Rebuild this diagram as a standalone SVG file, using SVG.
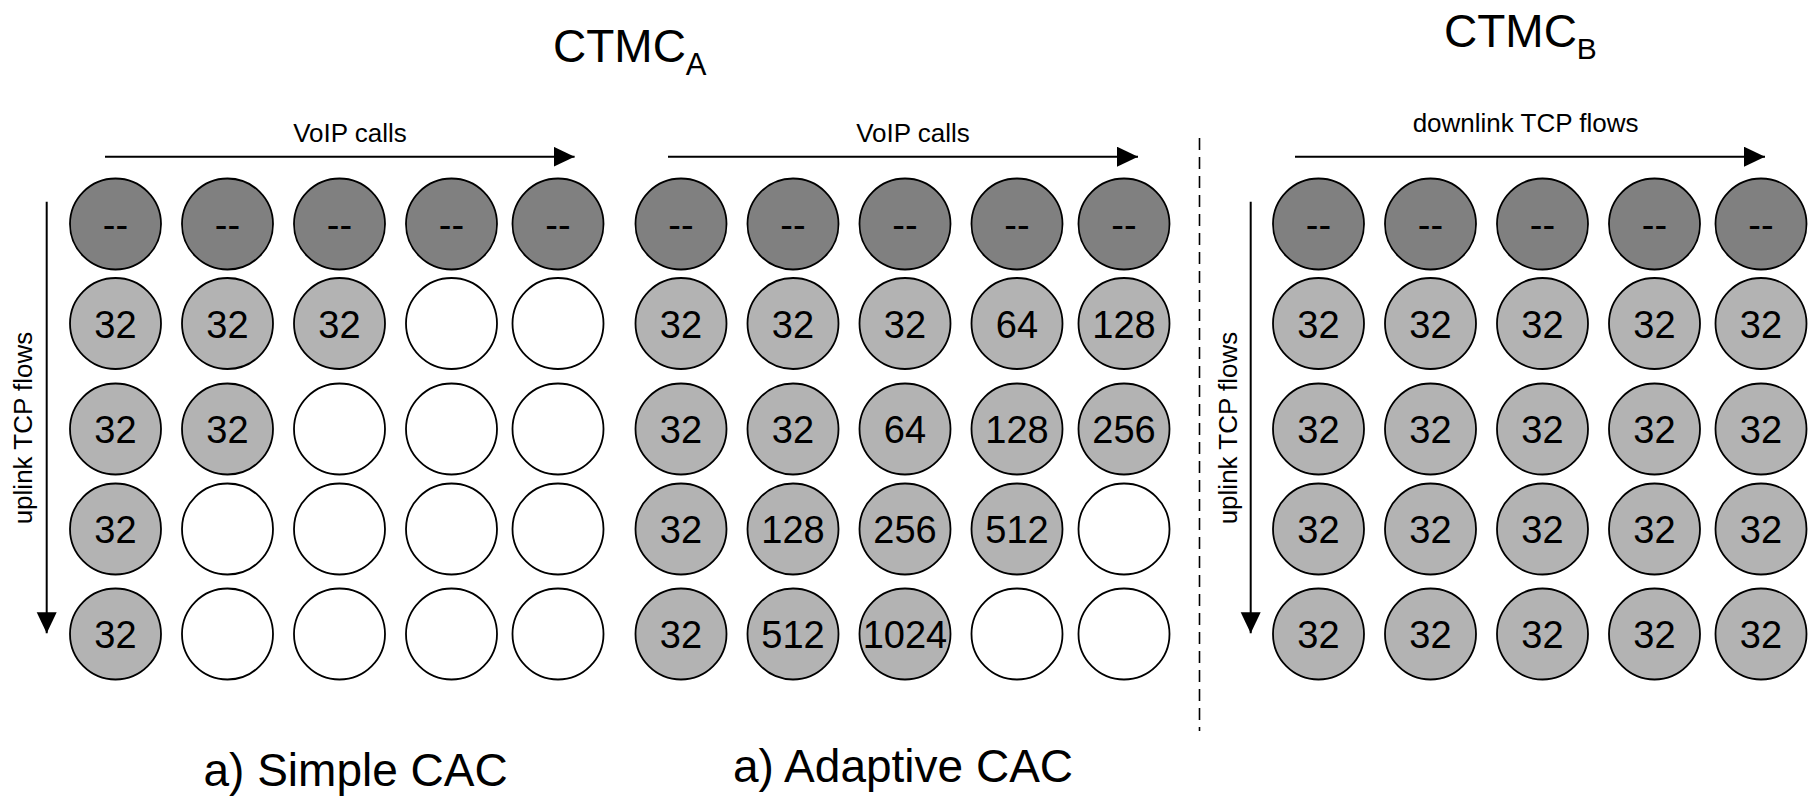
<svg xmlns="http://www.w3.org/2000/svg" width="1808" height="796" viewBox="0 0 1808 796">
<style>
text{font-family:"Liberation Sans",Arial,sans-serif;fill:#000}
.dk{fill:#808080;stroke:#000;stroke-width:1.8}
.lt{fill:#b3b3b3;stroke:#000;stroke-width:1.8}
.em{fill:#fff;stroke:#000;stroke-width:1.8}
.n{font-size:38px;text-anchor:middle}
.lbl{font-size:26px;text-anchor:middle}
.big{font-size:46px}
.ax{stroke:#000;stroke-width:2;fill:none}
</style>
<defs>
<marker id="ah" markerUnits="userSpaceOnUse" markerWidth="22" markerHeight="22" refX="21" refY="10" orient="auto">
<path d="M0,0 L21,10 L0,20 z" fill="#000"/>
</marker>
</defs>
<rect width="1808" height="796" fill="#fff"/>

<g id="titles">
<text class="big" x="553" y="62">CTMC<tspan font-size="31" dy="13">A</tspan></text>
<text class="big" x="1444" y="47">CTMC<tspan font-size="30" dy="12">B</tspan></text>
<text class="big" x="355.6" y="786" text-anchor="middle">a) Simple CAC</text>
<text class="big" x="903" y="782" text-anchor="middle">a) Adaptive CAC</text>
</g>

<g id="connectors">
<line class="ax" x1="105" y1="156.7" x2="574.6" y2="156.7" marker-end="url(#ah)"/>
<line class="ax" x1="668" y1="156.7" x2="1138" y2="156.7" marker-end="url(#ah)"/>
<line class="ax" x1="1295" y1="156.7" x2="1765" y2="156.7" marker-end="url(#ah)"/>
<line class="ax" x1="46.7" y1="201.7" x2="46.7" y2="633.3" marker-end="url(#ah)"/>
<line class="ax" x1="1250.7" y1="201.7" x2="1250.7" y2="633.3" marker-end="url(#ah)"/>
<line x1="1199.5" y1="138" x2="1199.5" y2="731" stroke="#000" stroke-width="1.6" stroke-dasharray="12 7"/>
</g>

<g id="axis-labels">
<text class="lbl" x="350" y="141.7">VoIP calls</text>
<text class="lbl" x="913" y="141.7">VoIP calls</text>
<text class="lbl" x="1525.6" y="131.7">downlink TCP flows</text>
<text class="lbl" transform="translate(32,428) rotate(-90)">uplink TCP flows</text>
<text class="lbl" transform="translate(1237,428) rotate(-90)">uplink TCP flows</text>
</g>

<!-- Panel A: Simple CAC -->
<g id="simpleA">
<g id="a-1-1"><circle class="dk" cx="115.5" cy="224" r="45.5"/><text class="n" x="115.5" y="238">--</text></g>
<g id="a-1-2"><circle class="dk" cx="227.5" cy="224" r="45.5"/><text class="n" x="227.5" y="238">--</text></g>
<g id="a-1-3"><circle class="dk" cx="339.5" cy="224" r="45.5"/><text class="n" x="339.5" y="238">--</text></g>
<g id="a-1-4"><circle class="dk" cx="451.5" cy="224" r="45.5"/><text class="n" x="451.5" y="238">--</text></g>
<g id="a-1-5"><circle class="dk" cx="558" cy="224" r="45.5"/><text class="n" x="558" y="238">--</text></g>

<g id="a-2-1"><circle class="lt" cx="115.5" cy="323.5" r="45.5"/><text class="n" x="115.5" y="338">32</text></g>
<g id="a-2-2"><circle class="lt" cx="227.5" cy="323.5" r="45.5"/><text class="n" x="227.5" y="338">32</text></g>
<g id="a-2-3"><circle class="lt" cx="339.5" cy="323.5" r="45.5"/><text class="n" x="339.5" y="338">32</text></g>
<g id="a-2-4"><circle class="em" cx="451.5" cy="323.5" r="45.5"/></g>
<g id="a-2-5"><circle class="em" cx="558" cy="323.5" r="45.5"/></g>

<g id="a-3-1"><circle class="lt" cx="115.5" cy="429" r="45.5"/><text class="n" x="115.5" y="443">32</text></g>
<g id="a-3-2"><circle class="lt" cx="227.5" cy="429" r="45.5"/><text class="n" x="227.5" y="443">32</text></g>
<g id="a-3-3"><circle class="em" cx="339.5" cy="429" r="45.5"/></g>
<g id="a-3-4"><circle class="em" cx="451.5" cy="429" r="45.5"/></g>
<g id="a-3-5"><circle class="em" cx="558" cy="429" r="45.5"/></g>

<g id="a-4-1"><circle class="lt" cx="115.5" cy="529" r="45.5"/><text class="n" x="115.5" y="543">32</text></g>
<g id="a-4-2"><circle class="em" cx="227.5" cy="529" r="45.5"/></g>
<g id="a-4-3"><circle class="em" cx="339.5" cy="529" r="45.5"/></g>
<g id="a-4-4"><circle class="em" cx="451.5" cy="529" r="45.5"/></g>
<g id="a-4-5"><circle class="em" cx="558" cy="529" r="45.5"/></g>

<g id="a-5-1"><circle class="lt" cx="115.5" cy="634" r="45.5"/><text class="n" x="115.5" y="648">32</text></g>
<g id="a-5-2"><circle class="em" cx="227.5" cy="634" r="45.5"/></g>
<g id="a-5-3"><circle class="em" cx="339.5" cy="634" r="45.5"/></g>
<g id="a-5-4"><circle class="em" cx="451.5" cy="634" r="45.5"/></g>
<g id="a-5-5"><circle class="em" cx="558" cy="634" r="45.5"/></g>
</g>

<!-- Panel B: Adaptive CAC -->
<g id="adaptiveA">
<g id="b-1-1"><circle class="dk" cx="681" cy="224" r="45.5"/><text class="n" x="681" y="238">--</text></g>
<g id="b-1-2"><circle class="dk" cx="793" cy="224" r="45.5"/><text class="n" x="793" y="238">--</text></g>
<g id="b-1-3"><circle class="dk" cx="905" cy="224" r="45.5"/><text class="n" x="905" y="238">--</text></g>
<g id="b-1-4"><circle class="dk" cx="1017" cy="224" r="45.5"/><text class="n" x="1017" y="238">--</text></g>
<g id="b-1-5"><circle class="dk" cx="1124" cy="224" r="45.5"/><text class="n" x="1124" y="238">--</text></g>

<g id="b-2-1"><circle class="lt" cx="681" cy="323.5" r="45.5"/><text class="n" x="681" y="338">32</text></g>
<g id="b-2-2"><circle class="lt" cx="793" cy="323.5" r="45.5"/><text class="n" x="793" y="338">32</text></g>
<g id="b-2-3"><circle class="lt" cx="905" cy="323.5" r="45.5"/><text class="n" x="905" y="338">32</text></g>
<g id="b-2-4"><circle class="lt" cx="1017" cy="323.5" r="45.5"/><text class="n" x="1017" y="338">64</text></g>
<g id="b-2-5"><circle class="lt" cx="1124" cy="323.5" r="45.5"/><text class="n" x="1124" y="338">128</text></g>

<g id="b-3-1"><circle class="lt" cx="681" cy="429" r="45.5"/><text class="n" x="681" y="443">32</text></g>
<g id="b-3-2"><circle class="lt" cx="793" cy="429" r="45.5"/><text class="n" x="793" y="443">32</text></g>
<g id="b-3-3"><circle class="lt" cx="905" cy="429" r="45.5"/><text class="n" x="905" y="443">64</text></g>
<g id="b-3-4"><circle class="lt" cx="1017" cy="429" r="45.5"/><text class="n" x="1017" y="443">128</text></g>
<g id="b-3-5"><circle class="lt" cx="1124" cy="429" r="45.5"/><text class="n" x="1124" y="443">256</text></g>

<g id="b-4-1"><circle class="lt" cx="681" cy="529" r="45.5"/><text class="n" x="681" y="543">32</text></g>
<g id="b-4-2"><circle class="lt" cx="793" cy="529" r="45.5"/><text class="n" x="793" y="543">128</text></g>
<g id="b-4-3"><circle class="lt" cx="905" cy="529" r="45.5"/><text class="n" x="905" y="543">256</text></g>
<g id="b-4-4"><circle class="lt" cx="1017" cy="529" r="45.5"/><text class="n" x="1017" y="543">512</text></g>
<g id="b-4-5"><circle class="em" cx="1124" cy="529" r="45.5"/></g>

<g id="b-5-1"><circle class="lt" cx="681" cy="634" r="45.5"/><text class="n" x="681" y="648">32</text></g>
<g id="b-5-2"><circle class="lt" cx="793" cy="634" r="45.5"/><text class="n" x="793" y="648">512</text></g>
<g id="b-5-3"><circle class="lt" cx="905" cy="634" r="45.5"/><text class="n" x="905" y="648">1024</text></g>
<g id="b-5-4"><circle class="em" cx="1017" cy="634" r="45.5"/></g>
<g id="b-5-5"><circle class="em" cx="1124" cy="634" r="45.5"/></g>
</g>

<!-- Panel C: CTMC_B -->
<g id="ctmcB">
<g id="c-1-1"><circle class="dk" cx="1318.5" cy="224" r="45.5"/><text class="n" x="1318.5" y="238">--</text></g>
<g id="c-1-2"><circle class="dk" cx="1430.5" cy="224" r="45.5"/><text class="n" x="1430.5" y="238">--</text></g>
<g id="c-1-3"><circle class="dk" cx="1542.5" cy="224" r="45.5"/><text class="n" x="1542.5" y="238">--</text></g>
<g id="c-1-4"><circle class="dk" cx="1654.5" cy="224" r="45.5"/><text class="n" x="1654.5" y="238">--</text></g>
<g id="c-1-5"><circle class="dk" cx="1761" cy="224" r="45.5"/><text class="n" x="1761" y="238">--</text></g>

<g id="c-2-1"><circle class="lt" cx="1318.5" cy="323.5" r="45.5"/><text class="n" x="1318.5" y="338">32</text></g>
<g id="c-2-2"><circle class="lt" cx="1430.5" cy="323.5" r="45.5"/><text class="n" x="1430.5" y="338">32</text></g>
<g id="c-2-3"><circle class="lt" cx="1542.5" cy="323.5" r="45.5"/><text class="n" x="1542.5" y="338">32</text></g>
<g id="c-2-4"><circle class="lt" cx="1654.5" cy="323.5" r="45.5"/><text class="n" x="1654.5" y="338">32</text></g>
<g id="c-2-5"><circle class="lt" cx="1761" cy="323.5" r="45.5"/><text class="n" x="1761" y="338">32</text></g>

<g id="c-3-1"><circle class="lt" cx="1318.5" cy="429" r="45.5"/><text class="n" x="1318.5" y="443">32</text></g>
<g id="c-3-2"><circle class="lt" cx="1430.5" cy="429" r="45.5"/><text class="n" x="1430.5" y="443">32</text></g>
<g id="c-3-3"><circle class="lt" cx="1542.5" cy="429" r="45.5"/><text class="n" x="1542.5" y="443">32</text></g>
<g id="c-3-4"><circle class="lt" cx="1654.5" cy="429" r="45.5"/><text class="n" x="1654.5" y="443">32</text></g>
<g id="c-3-5"><circle class="lt" cx="1761" cy="429" r="45.5"/><text class="n" x="1761" y="443">32</text></g>

<g id="c-4-1"><circle class="lt" cx="1318.5" cy="529" r="45.5"/><text class="n" x="1318.5" y="543">32</text></g>
<g id="c-4-2"><circle class="lt" cx="1430.5" cy="529" r="45.5"/><text class="n" x="1430.5" y="543">32</text></g>
<g id="c-4-3"><circle class="lt" cx="1542.5" cy="529" r="45.5"/><text class="n" x="1542.5" y="543">32</text></g>
<g id="c-4-4"><circle class="lt" cx="1654.5" cy="529" r="45.5"/><text class="n" x="1654.5" y="543">32</text></g>
<g id="c-4-5"><circle class="lt" cx="1761" cy="529" r="45.5"/><text class="n" x="1761" y="543">32</text></g>

<g id="c-5-1"><circle class="lt" cx="1318.5" cy="634" r="45.5"/><text class="n" x="1318.5" y="648">32</text></g>
<g id="c-5-2"><circle class="lt" cx="1430.5" cy="634" r="45.5"/><text class="n" x="1430.5" y="648">32</text></g>
<g id="c-5-3"><circle class="lt" cx="1542.5" cy="634" r="45.5"/><text class="n" x="1542.5" y="648">32</text></g>
<g id="c-5-4"><circle class="lt" cx="1654.5" cy="634" r="45.5"/><text class="n" x="1654.5" y="648">32</text></g>
<g id="c-5-5"><circle class="lt" cx="1761" cy="634" r="45.5"/><text class="n" x="1761" y="648">32</text></g>
</g>
</svg>
